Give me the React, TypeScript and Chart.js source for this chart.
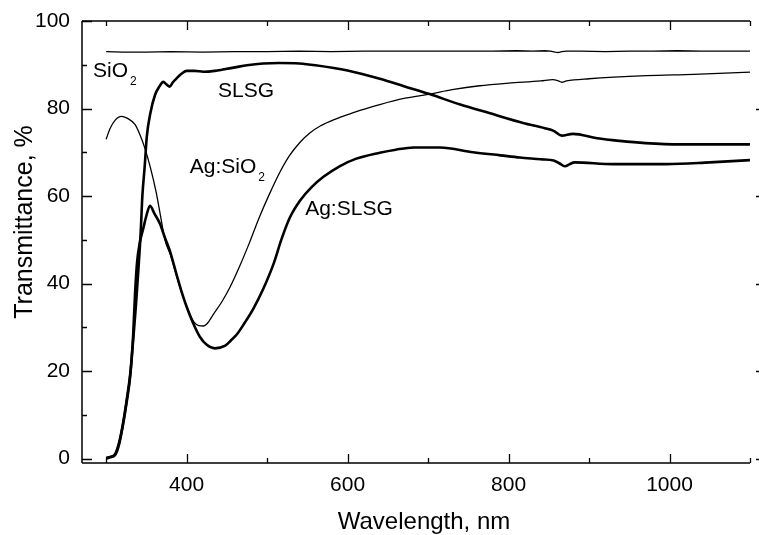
import { useEffect, useRef } from "react";
import { Chart, registerables } from "chart.js";

Chart.register(...registerables);

const FONT = '"Liberation Sans", Arial, Helvetica, sans-serif';

// ---- data (wavelength in nm, transmittance in %) ----
const sio2Wl = [300, 320, 350, 380, 420, 460, 500, 540, 580, 620, 660, 700, 740, 780, 810, 830, 845, 852, 858, 862, 866, 872, 890, 920, 950, 980, 1010, 1040, 1070, 1100];
const sio2T = [93.0, 92.9, 92.9, 93.0, 92.9, 93.0, 93.0, 93.1, 93.0, 93.1, 93.1, 93.1, 93.1, 93.1, 93.2, 93.1, 93.2, 93.1, 92.9, 92.8, 93.0, 93.1, 93.1, 93.0, 93.1, 93.1, 93.2, 93.1, 93.1, 93.1];

const slsgWl = [300, 305, 311, 316, 321, 326, 330, 334, 337, 340, 343, 345, 348, 350.5, 355, 360.7, 366, 371, 375, 379, 383, 387.6, 394, 400, 410, 421, 435, 445, 460, 475, 495, 515, 540, 560, 600, 640, 670, 702, 740, 777, 818, 845, 856, 866, 880, 910, 938, 970, 1013, 1060, 1100];
const slsgT = [0.2, 0.4, 1.0, 3.6, 8.1, 14, 19.5, 28, 35, 43, 52, 60, 67, 73.6, 79, 83.1, 85, 86.1, 85.5, 85.0, 86, 86.9, 88, 88.6, 88.6, 88.4, 88.6, 88.9, 89.4, 89.9, 90.3, 90.4, 90.3, 89.9, 88.7, 86.8, 85.1, 83.3, 80.9, 78.9, 76.7, 75.5, 74.9, 73.8, 74.2, 73.2, 72.6, 72.1, 71.8, 71.8, 71.8];

const agSio2Wl = [300, 305, 311, 319, 326, 336, 342, 348, 355, 362, 368, 373, 380, 386, 392, 398, 404, 410, 415, 421, 427, 433, 444, 454, 466, 478, 490, 503, 516, 528, 541, 553, 566, 585, 603, 620, 640, 670, 702, 730, 764, 800, 840, 855, 862, 866, 872, 900, 971, 1030, 1100];
const agSio2T = [73, 75.5, 77.3, 78.2, 77.8, 76.3, 74, 71, 66.5, 61, 55, 50, 46.5, 42.8, 39, 35.8, 33, 31, 30.4, 30.3, 31.2, 32.9, 35.9, 39.2, 44, 49.3, 55, 60.5, 65.5, 69.3, 72.3, 74.4, 76, 77.6, 78.8, 79.8, 80.9, 82.3, 83.3, 84.3, 85.2, 85.8, 86.3, 86.6, 86.3, 86.0, 86.3, 86.8, 87.5, 87.8, 88.3];

const agSlsgWl = [300, 305, 311, 316, 321, 326, 330, 333.5, 336, 338.5, 342, 346, 350, 354.5, 360, 367, 373, 379, 387.6, 394, 400, 408, 416.6, 425, 435, 448, 455, 462, 472, 483, 495, 508, 518, 528, 541, 555, 570, 590, 610, 640, 660, 682, 715, 756, 790, 814, 840, 856, 863, 870, 876, 882, 930, 996, 1050, 1100];
const agSlsgT = [0, 0.3, 0.8, 3.2, 7.8, 13.5, 19, 28, 38, 45, 49.5, 52.5, 55.5, 57.8, 56, 53.6, 50.5, 47.6, 42, 38, 34.7, 31, 27.8, 26, 25.2, 25.8, 27, 28.3, 31, 34.3, 38.7, 44.5, 50.2, 55, 59, 62, 64.4, 66.8, 68.5, 69.9, 70.6, 71.1, 71.1, 70, 69.3, 68.8, 68.4, 68.1, 67.5, 66.8, 67.3, 67.7, 67.3, 67.3, 67.7, 68.2];

const xMajorTicks = [400, 600, 800, 1000];
const xMinorTicks = [300, 500, 700, 900, 1100];
const yMajorTicks = [0, 20, 40, 60, 80, 100];
const yMinorTicks = [10, 30, 50, 70, 90];
const xTitle = "Wavelength, nm";
const yTitle = "Transmittance, %";

// curve labels anchored in data coordinates (left edge, baseline)
const curveLabels = [
  { text: "SiO", sub: "2", wl: 283.7, t: 87.1 },
  { text: "SLSG", sub: "", wl: 439, t: 82.7 },
  { text: "Ag:SiO", sub: "2", wl: 404, t: 65.2 },
  { text: "Ag:SLSG", sub: "", wl: 547.3, t: 55.7 },
];

const toXY = (wl: number[], t: number[]) => wl.map((w, i) => ({ x: w, y: t[i] }));

const decorPlugin = {
  id: "decor",
  afterDraw(chart: any) {
    const { ctx, chartArea: a, scales } = chart;
    const xs = scales.x;
    const ys = scales.y;
    ctx.save();
    ctx.strokeStyle = "#000";
    ctx.lineWidth = 1.5;
    ctx.beginPath();
    ctx.moveTo(a.left, a.top);
    ctx.lineTo(a.right, a.top);
    ctx.moveTo(a.left, a.top);
    ctx.lineTo(a.left, a.bottom);
    ctx.moveTo(a.left, a.bottom);
    ctx.lineTo(a.right, a.bottom);
    ctx.stroke();

    ctx.lineWidth = 1.3;
    ctx.beginPath();
    const xt = (v: number, len: number) => {
      const px = Math.round(xs.getPixelForValue(v)) + 0.5;
      ctx.moveTo(px, a.bottom);
      ctx.lineTo(px, a.bottom - len);
      ctx.moveTo(px, a.top);
      ctx.lineTo(px, a.top + len);
    };
    xMajorTicks.forEach((v) => xt(v, 9));
    xMinorTicks.forEach((v) => xt(v, 5));
    const yt = (v: number, len: number) => {
      const py = Math.round(ys.getPixelForValue(v)) + 0.5;
      ctx.moveTo(a.left, py);
      ctx.lineTo(a.left + len, py);
    };
    yMajorTicks.forEach((v) => yt(v, 10));
    yMinorTicks.forEach((v) => yt(v, 5));
    yMajorTicks.filter((v) => v < 100).forEach((v) => {
      const py = Math.round(ys.getPixelForValue(v)) + 0.5;
      ctx.moveTo(a.right + 6, py);
      ctx.lineTo(chart.width, py);
    });
    ctx.stroke();

    ctx.fillStyle = "#000";
    ctx.textBaseline = "alphabetic";
    ctx.textAlign = "left";
    curveLabels.forEach((l) => {
      const px = xs.getPixelForValue(l.wl);
      const py = ys.getPixelForValue(l.t);
      ctx.font = `21px ${FONT}`;
      ctx.fillText(l.text, px, py);
      if (l.sub) {
        const w = ctx.measureText(l.text).width;
        ctx.font = `12px ${FONT}`;
        ctx.fillText(l.sub, px + w + 2, py + 8);
      }
    });

    ctx.textAlign = "center";
    ctx.font = `24px ${FONT}`;
    ctx.fillText(xTitle, (a.left + a.right) / 2 + 8, chart.height - 6);

    ctx.translate(32, (a.top + a.bottom) / 2 - 20);
    ctx.rotate(-Math.PI / 2);
    ctx.font = `25px ${FONT}`;
    ctx.fillText(yTitle, 0, 0);
    ctx.restore();
  },
};

export default function App() {
  const ref = useRef<HTMLCanvasElement | null>(null);
  useEffect(() => {
    if (!ref.current) return;
    const thick = { borderColor: "#000", borderWidth: 2.6, pointRadius: 0, fill: false, cubicInterpolationMode: "monotone" as const };
    const thin = { borderColor: "#000", borderWidth: 1.3, pointRadius: 0, fill: false, cubicInterpolationMode: "monotone" as const };
    const chart = new Chart(ref.current, {
      type: "line",
      data: {
        datasets: [
          { label: "SiO2", data: toXY(sio2Wl, sio2T), ...thin, cubicInterpolationMode: "default", tension: 0 },
          { label: "SLSG", data: toXY(slsgWl, slsgT), ...thick },
          { label: "Ag:SiO2", data: toXY(agSio2Wl, agSio2T), ...thin },
          { label: "Ag:SLSG", data: toXY(agSlsgWl, agSlsgT), ...thick },
        ],
      },
      options: {
        animation: false,
        responsive: false,
        devicePixelRatio: 1,
        layout: { padding: { top: 21, right: 9, left: 0, bottom: 0 } },
        plugins: { legend: { display: false }, tooltip: { enabled: false } },
        scales: {
          x: {
            type: "linear",
            min: 270,
            max: 1100,
            grid: { display: false, drawTicks: false },
            border: { display: false },
            ticks: { color: "#000", font: { family: FONT, size: 21 }, padding: 10, maxRotation: 0, callback: (v: any) => String(v) },
            afterBuildTicks: (s: any) => {
              s.ticks = xMajorTicks.map((v) => ({ value: v }));
            },
            afterFit: (s: any) => {
              s.height = 72;
              s.paddingLeft = 0;
              s.paddingRight = 0;
            },
          },
          y: {
            type: "linear",
            min: -1,
            max: 100,
            grid: { display: false, drawTicks: false },
            border: { display: false },
            ticks: { color: "#000", font: { family: FONT, size: 21 }, padding: 12, callback: (v: any) => String(v) },
            afterBuildTicks: (s: any) => {
              s.ticks = yMajorTicks.map((v) => ({ value: v }));
            },
            afterFit: (s: any) => {
              s.width = 82;
              s.paddingTop = 0;
              s.paddingBottom = 0;
            },
          },
        },
      },
      plugins: [decorPlugin],
    });
    return () => chart.destroy();
  }, []);
  return (
    <div style={{ position: "fixed", left: 0, top: 0, width: 759, height: 535, background: "#fff" }}>
      <canvas ref={ref} width={759} height={535} style={{ display: "block", width: 759, height: 535 }} />
    </div>
  );
}
